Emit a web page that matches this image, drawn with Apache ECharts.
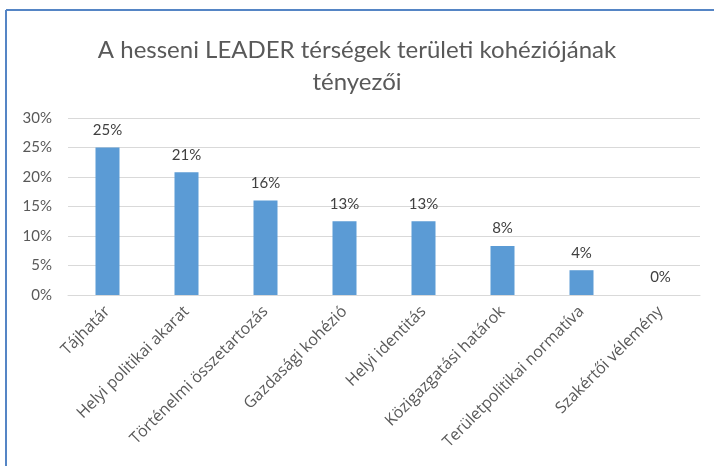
<!DOCTYPE html>
<html>
<head>
<meta charset="utf-8">
<script src="https://cdn.jsdelivr.net/npm/echarts@6/dist/echarts.min.js"></script>
<style>
html,body{margin:0;padding:0;background:#fff;}
#chart{width:714px;height:466px;}
</style>
</head>
<body>
<div id="chart"></div>
<script>
var categories = ['Tájhatár', 'Helyi politikai akarat', 'Történelmi összetartozás', 'Gazdasági kohézió',
	'Helyi identitás', 'Közigazgatási határok', 'Területpolitikai normatíva', 'Szakértői vélemény'];
var values = [0.25, 0.208, 0.16, 0.125, 0.125, 0.083, 0.042, 0];
var yTicks = [0, 0.05, 0.10, 0.15, 0.20, 0.25, 0.30];

var font = 'Lato, "Open Sans", sans-serif';
var mychart = echarts.init(document.getElementById('chart'));
var option = {
	animation: false,
	title: {
		text: 'A hesseni LEADER térségek területi kohéziójának\ntényezői',
		left: 'center',
		top: 29,
		textStyle: {
			color: '#595959',
			fontSize: 24,
			fontWeight: 'normal',
			fontFamily: font,
			lineHeight: 32
		}
	},
	graphic: [
		{ type: 'line', shape: { x1: 6, y1: 10, x2: 714, y2: 10 }, style: { stroke: '#5585c5', lineWidth: 2 } },
		{ type: 'line', shape: { x1: 6, y1: 10, x2: 6, y2: 466 }, style: { stroke: '#5585c5', lineWidth: 2 } }
	],
	grid: {
		left: 68,
		right: 14,
		top: 118,
		bottom: 171
	},
	xAxis: {
		type: 'category',
		data: categories,
		axisLine: { lineStyle: { color: '#d9d9d9' } },
		axisTick: { show: false },
		axisLabel: {
			rotate: 45,
			interval: 0,
			margin: 14,
			color: '#595959',
			fontSize: 16,
			fontFamily: '"Open Sans", sans-serif'
		}
	},
	yAxis: {
		type: 'value',
		min: yTicks[0],
		max: yTicks[yTicks.length - 1],
		interval: 0.05,
		axisLine: { show: false },
		axisTick: { show: false },
		splitLine: { lineStyle: { color: '#d9d9d9' } },
		axisLabel: {
			color: '#595959',
			fontSize: 15,
			fontFamily: font,
			margin: 16,
			formatter: function (v) { return Math.round(v * 100) + '%'; }
		}
	},
	series: [{
		type: 'bar',
		data: values,
		barWidth: 24,
		itemStyle: { color: '#5b9bd5' },
		label: {
			show: true,
			position: 'top',
			distance: 10,
			color: '#404040',
			fontSize: 15,
			fontFamily: font,
			formatter: function (p) { return Math.round(p.value * 100) + '%'; }
		}
	}]
};
mychart.setOption(option);
</script>
</body>
</html>
